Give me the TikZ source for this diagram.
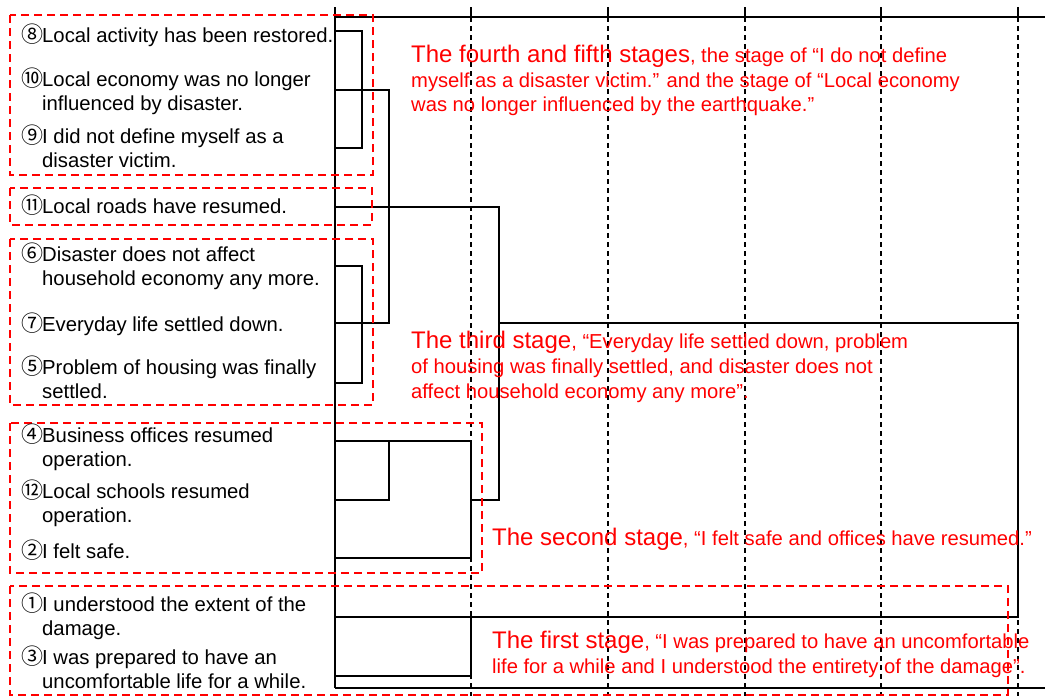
\documentclass[tikz,border=0pt]{standalone}
\usepackage{fontspec}
\setmainfont{Liberation Sans}
\newfontfamily\cjkfont{Noto Sans CJK JP}
\newcommand\circnum[1]{\makebox[21pt][l]{\cjkfont\fontsize{22}{24}\selectfont #1}}
\newcommand\bigred[1]{{\fontsize{24}{25}\selectfont #1}}
\begin{document}
\begin{tikzpicture}[x=1pt,y=-1pt,
  den/.style={line width=1.4pt,black},
  gridline/.style={line width=1.1pt,black,dash pattern=on 5pt off 4pt},
  tickline/.style={line width=1.1pt,black},
  redbox/.style={draw=red,line width=2pt,dash pattern=on 8pt off 5pt},
  lbl/.style={anchor=base west,inner sep=0pt,font=\fontsize{20.3}{24.5}\selectfont},
  rtxt/.style={anchor=base west,inner sep=0pt,text=red,font=\fontsize{20.2}{25}\selectfont}]
\useasboundingbox (0,0) rectangle (1045,696);
\fill[white] (0,0) rectangle (1045,696);

% grid
\foreach \x in {471,608,745,881,1018}{
  \draw[tickline] (\x,7) -- (\x,17);
  \draw[gridline] (\x,17) -- (\x,696);
}
% axes
\draw[den] (335,7) -- (335,688);
\draw[den] (335,17) -- (1045,17);
\draw[den] (335,688) -- (1045,688);

% dendrogram
\draw[den] (335,31) -- (362,31) -- (362,148) -- (335,148);
\draw[den] (335,90) -- (389,90) -- (389,323) -- (335,323);
\draw[den] (335,207) -- (499,207) -- (499,500) -- (471,500);
\draw[den] (335,266) -- (362,266) -- (362,383) -- (335,383);
\draw[den] (499,323) -- (1018,323) -- (1018,617) -- (335,617);
\draw[den] (335,441) -- (471,441) -- (471,558) -- (335,558);
\draw[den] (335,500) -- (389,500) -- (389,441);
\draw[den] (471,617) -- (471,676) -- (335,676);

% red dashed groups
\draw[redbox] (10,15) rectangle (373,175);
\draw[redbox] (10,188) rectangle (372,225);
\draw[redbox] (10,239) rectangle (373,405);
\draw[redbox] (10,423) rectangle (482,573);
\draw[redbox] (10,586) rectangle (1008,695);

% labels
\node[lbl] (n8) at (21,42) {\circnum{⑧}Local activity has been restored.};
\node[lbl] (n10) at (21,86) {\begin{tabular}[t]{@{}l@{}}\circnum{⑩}Local economy was no longer\\\hspace*{21pt}influenced by disaster.\end{tabular}};
\node[lbl] (n9) at (21,143) {\begin{tabular}[t]{@{}l@{}}\circnum{⑨}I did not define myself as a\\\hspace*{21pt}disaster victim.\end{tabular}};
\node[lbl] (n11) at (21,213) {\circnum{⑪}Local roads have resumed.};
\node[lbl] (n6) at (21,261) {\begin{tabular}[t]{@{}l@{}}\circnum{⑥}Disaster does not affect\\\hspace*{21pt}household economy any more.\end{tabular}};
\node[lbl] (n7) at (21,331) {\circnum{⑦}Everyday life settled down.};
\node[lbl] (n5) at (21,374) {\begin{tabular}[t]{@{}l@{}}\circnum{⑤}Problem of housing was finally\\\hspace*{21pt}settled.\end{tabular}};
\node[lbl] (n4) at (21,442) {\begin{tabular}[t]{@{}l@{}}\circnum{④}Business offices resumed\\\hspace*{21pt}operation.\end{tabular}};
\node[lbl] (n12) at (21,498) {\begin{tabular}[t]{@{}l@{}}\circnum{⑫}Local schools resumed\\\hspace*{21pt}operation.\end{tabular}};
\node[lbl] (n2) at (21,558) {\circnum{②}I felt safe.};
\node[lbl] (n1) at (21,611) {\begin{tabular}[t]{@{}l@{}}\circnum{①}I understood the extent of the\\\hspace*{21pt}damage.\end{tabular}};
\node[lbl] (n3) at (21,664) {\begin{tabular}[t]{@{}l@{}}\circnum{③}I was prepared to have an\\\hspace*{21pt}uncomfortable life for a while.\end{tabular}};

% stage descriptions
\node[rtxt] (s45) at (411,62) {\begin{tabular}[t]{@{}l@{}}\bigred{The fourth and fifth stages}, the stage of “I do not define\\myself as a disaster victim.” and the stage of “Local economy\\was no longer influenced by the earthquake.”\end{tabular}};
\node[rtxt] (s3) at (411,348) {\begin{tabular}[t]{@{}l@{}}\bigred{The third stage}, “Everyday life settled down, problem\\of housing was finally settled, and disaster does not\\affect household economy any more”.\end{tabular}};
\node[rtxt] (s2) at (492,545) {\bigred{The second stage}, “I felt safe and offices have resumed.”};
\node[rtxt] (s1) at (492,648) {\begin{tabular}[t]{@{}l@{}}\bigred{The first stage}, “I was prepared to have an uncomfortable\\life for a while and I understood the entirety of the damage”.\end{tabular}};
\end{tikzpicture}
\end{document}
